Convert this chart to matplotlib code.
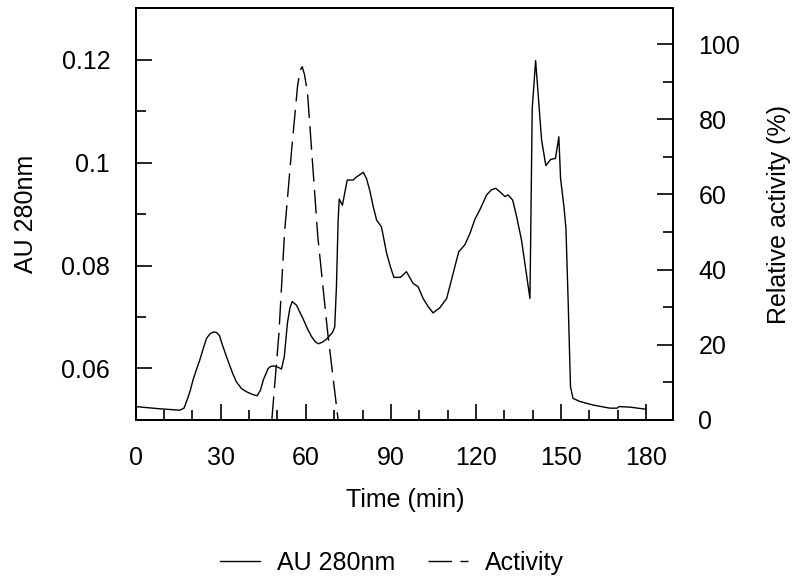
import matplotlib
matplotlib.use("Agg")
import matplotlib.pyplot as plt
from matplotlib.ticker import MultipleLocator, FuncFormatter

plt.rcParams['font.family'] = ['Liberation Sans', 'DejaVu Sans']
plt.rcParams['lines.scale_dashes'] = False

# AU 280nm trace
au_time = [0, 8, 15.5, 17, 18.1, 19.2, 20.2, 21.4, 22.6, 23.8, 25, 26.3, 27.5,
           28.5, 29.5, 30.6, 32, 33.2, 34.2, 35.5, 37.3, 39, 41, 42.8, 44, 45,
           46.7, 47.6, 48.5, 50, 51.4, 52.4, 53.5, 54.4, 55.2, 56.7, 58, 59, 60.5,
           62, 63.3, 64.4, 65.8, 67.3, 69.4,
           70.2, 70.8, 71.4, 71.8, 72.9, 74.6, 76.7, 77.9, 80.3, 81.4, 82.6, 83.8,
           85, 86.7, 88.5, 90, 91.1, 93.4, 95.5, 97.9, 99.6, 101.4, 103.2, 104.9,
           107.3, 109.7, 111.4, 112.7, 114, 116.1, 117.9, 119.7, 121.4, 123.8,
           125.5, 127, 128.5, 130.3, 131.4, 133, 134.4, 136.1, 139.1, 139.9,
           141.1, 143.2, 144.7, 146.4, 148.1, 149.3, 149.9, 151.1, 151.8, 152.6,
           153.4, 154.3, 156.7, 161.4, 167.3, 169.9, 170.5, 174.4, 179.9]
au_value = [0.0526, 0.0522, 0.0519, 0.0523, 0.0539, 0.0557, 0.0578, 0.0598,
            0.0617, 0.0639, 0.0659, 0.0668, 0.0671, 0.0670, 0.0664, 0.0645,
            0.0623, 0.0605, 0.0590, 0.0574, 0.0561, 0.0555, 0.0550, 0.0547,
            0.0558, 0.0578, 0.0600, 0.0604, 0.0605, 0.0603, 0.0599, 0.0623,
            0.0688, 0.0718, 0.0730, 0.0723, 0.0708, 0.0697, 0.0678, 0.0662,
            0.0652, 0.0648, 0.0651, 0.0657, 0.0670,
            0.0681, 0.0759, 0.0888, 0.0929, 0.0917, 0.0966, 0.0966, 0.0972,
            0.0981, 0.0969, 0.0945, 0.0914, 0.0888, 0.0875, 0.0824, 0.0795,
            0.0777, 0.0777, 0.0788, 0.0765, 0.0759, 0.0736, 0.0720, 0.0708,
            0.0718, 0.0736, 0.0772, 0.0800, 0.0827, 0.0840, 0.0862, 0.0890,
            0.0908, 0.0937, 0.0947, 0.0950, 0.0943, 0.0934, 0.0937, 0.0927,
            0.0895, 0.0850, 0.0736, 0.1105, 0.1198, 0.1044, 0.0994, 0.1006,
            0.1008, 0.1050, 0.0969, 0.0914, 0.0872, 0.0727, 0.0565, 0.0542,
            0.0536, 0.0529, 0.0523, 0.0523, 0.0526, 0.0525, 0.0521]

# Relative activity
act_time = [48, 50.5, 52.5, 55, 57.1, 58, 58.7, 59.5, 60.6, 62.5, 64.2, 67.6, 71.4]
act_value = [0, 23, 50, 72, 89, 93, 94, 92, 87, 67, 49, 24, 0]

x_ticks = [0, 30, 60, 90, 120, 150, 180]
au_ticks = [0.06, 0.08, 0.10, 0.12]
act_ticks = [0, 20, 40, 60, 80, 100]

fig = plt.figure(figsize=(7.99, 5.83), dpi=100)
ax = fig.add_axes([0.170, 0.2796, 0.672, 0.7066])
ax2 = ax.twinx()

l1, = ax.plot(au_time, au_value, color='black', lw=1.0, label='AU 280nm')
l2, = ax2.plot(act_time, act_value, color='black', lw=1.0,
               dashes=(17, 6), label='Activity')

ax.set_xlim(0, 189.5)
ax.set_ylim(0.05, 0.13)
ax2.set_ylim(0, 109.6)

ax.set_xticks(x_ticks)
ax.set_yticks(au_ticks)
ax2.set_yticks(act_ticks)
ax.xaxis.set_minor_locator(MultipleLocator(10))
ax.yaxis.set_minor_locator(MultipleLocator(0.01))
ax2.yaxis.set_minor_locator(MultipleLocator(10))
ax.yaxis.set_major_formatter(FuncFormatter(lambda v, p: f"{v:g}"))

fs = 18
for a in (ax, ax2):
    a.tick_params(which='major', direction='in', length=11.5, width=1.2,
                  labelsize=fs, pad=18.5)
    a.tick_params(which='minor', direction='in', length=7.5, width=1.2)
    for s in a.spines.values():
        s.set_linewidth(1.4)
ax.tick_params(axis='y', which='both', right=False)
ax.tick_params(axis='x', which='both', top=False)
ax2.tick_params(axis='x', which='both', top=False, bottom=False)

ax.set_xlabel('Time (min)', fontsize=fs)
ax.set_ylabel('AU 280nm', fontsize=fs)
ax2.set_ylabel('Relative activity (%)', fontsize=fs)
ax.xaxis.set_label_coords(0.501, -0.165)
ax.yaxis.set_label_coords(-0.182, 0.5)
ax2.yaxis.set_label_coords(1.175, 0.5)

fig.legend(handles=[l1, l2], loc='center', bbox_to_anchor=(0.4906, 0.0343),
           ncol=2, frameon=False, fontsize=fs, handlelength=1.6,
           handletextpad=0.7, columnspacing=1.3)

fig.savefig('out.png', dpi=100)
